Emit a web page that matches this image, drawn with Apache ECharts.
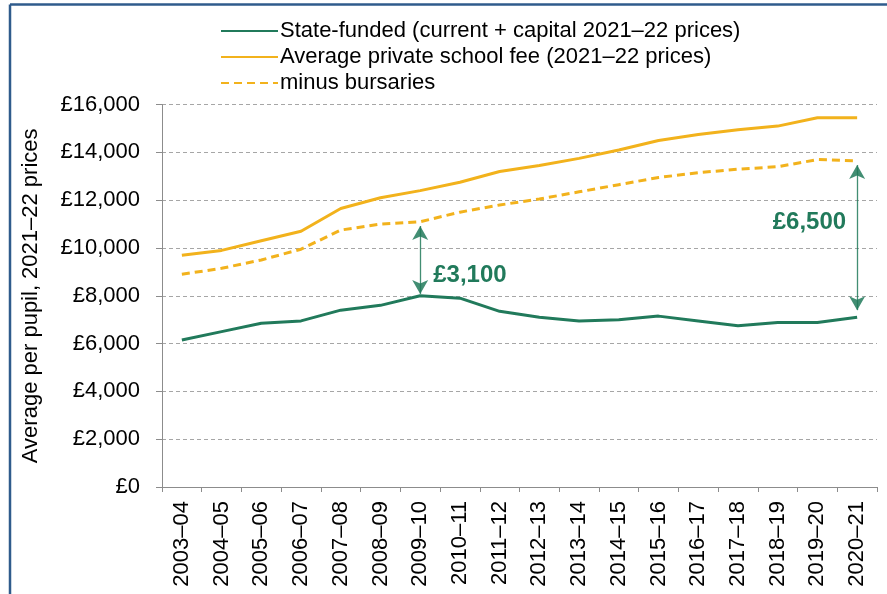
<!DOCTYPE html>
<html>
<head>
<meta charset="utf-8">
<script src="https://cdn.jsdelivr.net/npm/echarts@6/dist/echarts.min.js"></script>
<style>
  html, body { margin: 0; padding: 0; background: #fff; }
  #chart { width: 887px; height: 594px; }
</style>
</head>
<body>
<div id="chart"></div>
<script>
// school years on the x axis
const years = ['2003–04', '2004–05', '2005–06', '2006–07', '2007–08', '2008–09', '2009–10', '2010–11', '2011–12',
  '2012–13', '2013–14', '2014–15', '2015–16', '2016–17', '2017–18', '2018–19', '2019–20', '2020–21'];

// £ per pupil, 2021-22 prices
const stateFunded = [6150, 6500, 6850, 6950, 7400, 7600, 8000, 7900, 7350, 7100, 6950, 7000, 7150, 6950, 6750, 6880, 6880, 7100];
const privateFee = [9700, 9900, 10300, 10700, 11650, 12100, 12400, 12750, 13200, 13450, 13750, 14100, 14500, 14750, 14950, 15100, 15450, 15450];
const minusBursaries = [8900, 9150, 9500, 9950, 10750, 11000, 11100, 11500, 11800, 12050, 12350, 12650, 12950, 13150, 13300, 13400, 13700, 13650];

const yTicks = [0, 2000, 4000, 6000, 8000, 10000, 12000, 14000, 16000];

// gap annotations: year, arrow top value, arrow bottom value, label
const gapYears = ['2009–10', '2020–21'];
const gapTop = [10920, 13470];
const gapBottom = [8080, 7400];
const gapLabels = ['£3,100', '£6,500'];

const GREEN = '#217a5b';
const GOLD = '#f2b21c';
const FONT = '"Liberation Sans", Arial, sans-serif';

const chart = echarts.init(document.getElementById('chart'));

const border = [
  { type: 'line', shape: { x1: 10, y1: 4.5, x2: 887, y2: 4.5 }, style: { stroke: '#2f5b8c', lineWidth: 2.5 } },
  { type: 'line', shape: { x1: 10, y1: 4.5, x2: 10, y2: 594 }, style: { stroke: '#2f5b8c', lineWidth: 2.5 } }
];

const option = {
  animation: false,
  textStyle: { fontFamily: FONT },
  grid: { left: 162, right: 10, top: 104.6, bottom: 107, containLabel: false },
  legend: {
    orient: 'vertical',
    left: 215,
    top: 15,
    itemWidth: 57,
    itemHeight: 14,
    itemGap: 4,
    itemStyle: { color: 'rgba(0,0,0,0)', borderWidth: 0, opacity: 0 },
    textStyle: { fontSize: 22, color: '#000', fontFamily: FONT, padding: [0, 0, 0, -3] },
    data: ['State-funded (current + capital 2021–22 prices)', 'Average private school fee (2021–22 prices)', 'minus bursaries']
  },
  xAxis: {
    type: 'category',
    data: years,
    boundaryGap: true,
    axisLine: { lineStyle: { color: '#8c8c8c', width: 1 } },
    axisTick: { show: true, length: 5, alignWithLabel: false, lineStyle: { color: '#8c8c8c' } },
    axisLabel: { rotate: 90, margin: 14, fontSize: 22, color: '#000', fontFamily: FONT, interval: 0 }
  },
  yAxis: {
    type: 'value',
    min: yTicks[0],
    max: yTicks[yTicks.length - 1],
    interval: 2000,
    name: 'Average per pupil, 2021–22 prices',
    nameLocation: 'middle',
    nameGap: 120,
    nameTextStyle: { fontSize: 22, color: '#000', fontFamily: FONT },
    axisLine: { show: true, lineStyle: { color: '#8c8c8c', width: 1 } },
    axisTick: { show: true, length: 6, lineStyle: { color: '#8c8c8c' } },
    axisLabel: {
      margin: 22, fontSize: 22, color: '#000', fontFamily: FONT,
      formatter: v => '£' + v.toLocaleString('en-GB')
    },
    splitLine: { show: true, lineStyle: { color: '#a6a6a6', type: [4, 3], width: 1 } }
  },
  series: [
    {
      name: 'State-funded (current + capital 2021–22 prices)',
      type: 'line',
      data: stateFunded,
      symbol: 'none',
      lineStyle: { color: GREEN, width: 3 },
      itemStyle: { color: GREEN },
      z: 3,
      markLine: {
        silent: true,
        symbol: ['arrow', 'arrow'],
        symbolSize: [12, 14],
        label: { show: false },
        lineStyle: { color: GREEN, width: 1.3, type: 'solid', opacity: 0.85 },
        data: gapYears.map((y, i) => [{ coord: [y, gapTop[i]] }, { coord: [y, gapBottom[i]] }])
      }
    },
    {
      name: 'Average private school fee (2021–22 prices)',
      type: 'line',
      data: privateFee,
      symbol: 'none',
      lineStyle: { color: GOLD, width: 3 },
      itemStyle: { color: GOLD }
    },
    {
      name: 'minus bursaries',
      type: 'line',
      data: minusBursaries,
      symbol: 'none',
      lineStyle: { color: GOLD, width: 3, type: [8, 5] },
      itemStyle: { color: GOLD }
    }
  ],
  graphic: border
};

chart.setOption(option);

// gap labels placed next to their arrows
const p1 = chart.convertToPixel({ gridIndex: 0 }, [gapYears[0], gapBottom[0]]);
const p2 = chart.convertToPixel({ gridIndex: 0 }, [gapYears[1], (gapTop[1] + gapBottom[1]) / 2]);
chart.setOption({
  graphic: border.concat([
    { type: 'text', x: p1[0] + 13, y: p1[1] - 19, style: { text: gapLabels[0], fill: GREEN, font: 'bold 24px ' + FONT, verticalAlign: 'middle' } },
    { type: 'text', x: p2[0] - 11, y: p2[1] - 15, style: { text: gapLabels[1], fill: GREEN, font: 'bold 24px ' + FONT, align: 'right', verticalAlign: 'middle' } }
  ])
});
</script>
</body>
</html>
